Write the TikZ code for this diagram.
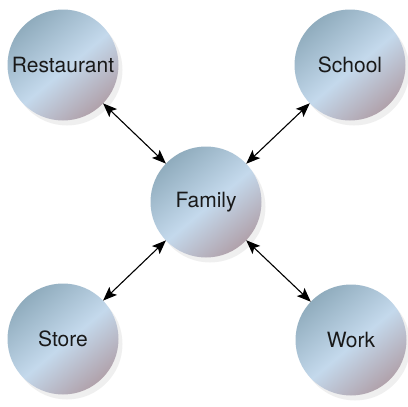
\documentclass[tikz,border=0pt]{standalone}
\usepackage{fontspec}
\setsansfont{TeX Gyre Heros}
\usetikzlibrary{shapes.geometric, arrows.meta, shadows}
\definecolor{circtop}{HTML}{8AA7B8}
\definecolor{circmid}{HTML}{C4D9EC}
\definecolor{circbot}{HTML}{AE9AA2}
\pgfdeclareverticalshading{bubble}{100bp}{color(0bp)=(circbot); color(22bp)=(circbot); color(48bp)=(circmid); color(78bp)=(circtop); color(100bp)=(circtop)}
\tikzstyle{place} = [circle, 
minimum size=111pt, 
inner sep=0pt, outer sep=0pt,
text centered, 
shading=bubble, shading angle=40,
drop shadow={shadow xshift=4pt, shadow yshift=-5pt, fill=black!12},
font=\sffamily\fontsize{21}{25}\selectfont,
text=black!90]
\tikzstyle{arrow} = [line width=1.1pt, {Stealth[length=14pt,width=11pt,inset=3pt]}-{Stealth[length=14pt,width=11pt,inset=3pt]}]

\begin{document}
\begin{tikzpicture}
        \useasboundingbox (0,0) rectangle (408pt,-407pt);
        \node (family) [place] at (206pt,-202pt) {Family};
        \node (rest) [place] at (63pt,-65pt) {Restaurant};
        \node (school) [place] at (350pt,-65pt) {School};
        \node (store) [place] at (63pt,-339pt) {Store};
        \node (work) [place] at (351pt,-340pt) {Work};
        \draw [arrow] (rest) -- (family);
        \draw [arrow] (school) -- (family);
        \draw [arrow] (store) -- (family);
        \draw [arrow] (work) -- (family);
    \end{tikzpicture}
\end{document}
